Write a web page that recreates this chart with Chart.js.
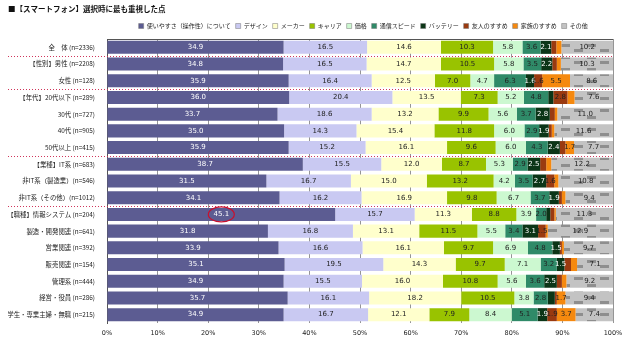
<!DOCTYPE html>
<html>
<head>
<meta charset="utf-8">
<script src="https://cdn.jsdelivr.net/npm/chart.js@4/dist/chart.umd.min.js"></script>
<style>
  body { margin: 0; background: #fff; }
  #wrap { width: 640px; height: 341px; }
</style>
</head>
<body>
<div id="wrap"><canvas id="dataChart" width="640" height="341"></canvas></div>
<script>
// row labels
var categories = [
  '全　体 (n=2336)', '【性別】男性 (n=2208)', '女性 (n=128)',
  '【年代】20代以下 (n=289)', '30代 (n=727)', '40代 (n=905)', '50代以上 (n=415)',
  '【業種】IT系 (n=683)', '非IT系（製造業）(n=546)', '非IT系（その他）(n=1012)',
  '【職種】情報システム (n=204)', '製造・開発関連 (n=641)', '営業関連 (n=392)',
  '販売関連 (n=154)', '管理系 (n=444)', '経営・役員 (n=286)', '学生・専業主婦・無職 (n=215)'
];
var seriesNames = ['使いやすさ（操作性）について', 'デザイン', 'メーカー', 'キャリア', '価格',
  '通信スピード', 'バッテリー', '友人のすすめ', '家族のすすめ', 'その他'];

var useValues     = [34.9, 34.8, 35.9, 36.0, 33.7, 35.0, 35.9, 38.7, 31.5, 34.1, 45.1, 31.8, 33.9, 35.1, 34.9, 35.7, 34.9];
var designValues  = [16.5, 16.5, 16.4, 20.4, 18.6, 14.3, 15.2, 15.5, 16.7, 16.2, 15.7, 16.8, 16.6, 19.5, 15.5, 16.1, 16.7];
var makerValues   = [14.6, 14.7, 12.5, 13.5, 13.2, 15.4, 16.1, 12.0, 15.0, 16.9, 11.3, 13.1, 16.1, 14.3, 16.0, 18.2, 12.1];
var carrierValues = [10.3, 10.5, 7.0, 7.3, 9.9, 11.8, 9.6, 8.7, 13.2, 9.8, 8.8, 11.5, 9.7, 9.7, 10.8, 10.5, 7.9];
var priceValues   = [5.8, 5.8, 4.7, 5.2, 5.6, 6.0, 6.0, 5.3, 4.2, 6.7, 3.9, 5.5, 6.9, 7.1, 5.6, 3.8, 8.4];
var speedValues   = [3.6, 3.5, 6.3, 4.8, 3.7, 2.9, 4.3, 2.9, 3.5, 3.7, 2.0, 3.4, 4.8, 3.2, 3.6, 2.8, 5.1];
var batteryValues = [2.1, 2.2, 1.6, 1.0, 2.8, 1.9, 2.4, 2.5, 2.7, 1.9, 0.8, 3.1, 1.5, 1.5, 2.5, 1.4, 1.9];
var friendValues  = [1.0, 0.9, 1.6, 2.8, 1.0, 0.6, 1.1, 1.2, 1.6, 0.6, 0.8, 1.5, 0.4, 1.3, 1.0, 0.4, 1.9];
var familyValues  = [1.0, 0.8, 5.5, 1.4, 0.5, 0.5, 1.7, 1.0, 0.8, 0.7, 0.3, 0.4, 0.4, 1.2, 0.9, 1.7, 3.7];
var otherValues   = [10.2, 10.3, 8.6, 7.6, 11.0, 11.6, 7.7, 12.2, 10.8, 9.4, 11.3, 12.9, 9.7, 7.1, 9.2, 9.4, 7.4];

var xTicks = [0, 10, 20, 30, 40, 50, 60, 70, 80, 90, 100];
// group separators drawn after these row indexes
var groupBreaks = [0, 2, 6, 9];
var circledRow = 10;

// gray "brick" pattern for その他
function makePattern() {
  var c = document.createElement('canvas');
  c.width = 26; c.height = 12;
  var g = c.getContext('2d');
  g.fillStyle = '#c3c3c3'; g.fillRect(0, 0, 26, 12);
  g.fillStyle = '#8e8e8e';
  g.fillRect(2, 1, 9, 3);
  g.fillRect(15, 8, 9, 3);
  return g.createPattern(c, 'repeat');
}

var allValues = [useValues, designValues, makerValues, carrierValues, priceValues,
  speedValues, batteryValues, friendValues, familyValues, otherValues];
var colors = ['#5c5c92', '#c9c9f2', '#ffffcc', '#99c300', '#ccf8d0',
  '#2f8a68', '#0b3517', '#9a3a10', '#f5890f', makePattern()];
var legendColors = colors.slice(0, 9).concat(['#c3c3c3']);
var labelColors = ['#fff', '#222', '#222', '#222', '#222', '#222', '#fff', '#222', '#222', '#222'];

var datasets = allValues.map(function(vals, i) {
  return {
    label: seriesNames[i],
    data: vals,
    backgroundColor: colors[i],
    borderWidth: 0,
    barPercentage: 0.78,
    categoryPercentage: 1.0
  };
});

var decorPlugin = {
  id: 'decor',
  beforeDatasetsDraw: function(chart) {
    var ctx = chart.ctx, a = chart.chartArea, y = chart.scales.y;
    ctx.save();
    // top line of plot
    ctx.strokeStyle = '#555';
    ctx.lineWidth = 1;
    ctx.beginPath();
    ctx.moveTo(a.left, a.top + 0.5); ctx.lineTo(a.right, a.top + 0.5);
    ctx.stroke();
    // dotted red group separators
    ctx.strokeStyle = '#d0345a';
    ctx.setLineDash([1, 2]);
    groupBreaks.forEach(function(i) {
      var py = Math.round((y.getPixelForValue(i) + y.getPixelForValue(i + 1)) / 2) + 0.5;
      ctx.beginPath();
      ctx.moveTo(8, py); ctx.lineTo(a.right, py);
      ctx.stroke();
    });
    ctx.restore();
  },
  afterDatasetsDraw: function(chart) {
    var ctx = chart.ctx;
    ctx.save();
    ctx.font = '7px "DejaVu Sans", sans-serif';
    ctx.textAlign = 'center';
    ctx.textBaseline = 'middle';
    chart.data.datasets.forEach(function(ds, di) {
      var meta = chart.getDatasetMeta(di);
      meta.data.forEach(function(bar, j) {
        var v = ds.data[j];
        if (v < 1.5) return;
        var cx = (bar.x + bar.base) / 2;
        ctx.fillStyle = labelColors[di];
        ctx.fillText(v.toFixed(1), cx, bar.y);
        if (di === 0 && j === circledRow) {
          ctx.strokeStyle = '#c8102e';
          ctx.lineWidth = 1.2;
          ctx.beginPath();
          ctx.ellipse(cx, bar.y, 13, 7.5, 0, 0, Math.PI * 2);
          ctx.stroke();
        }
      });
    });
    ctx.restore();
  }
};

var ctx = document.getElementById('dataChart');
var myChart = new Chart(ctx, {
  type: 'bar',
  data: { labels: categories, datasets: datasets },
  plugins: [decorPlugin],
  options: {
    indexAxis: 'y',
    responsive: false,
    animation: false,
    devicePixelRatio: 1,
    layout: { padding: { left: 8, right: 27, top: 3, bottom: 0 } },
    plugins: {
      title: {
        display: true,
        text: '■【スマートフォン】選択時に最も重視した点',
        align: 'start',
        color: '#111',
        font: { family: '"Noto Sans CJK JP"', size: 7.5, weight: 'bold' },
        padding: { top: 2, bottom: 4 }
      },
      legend: {
        position: 'top',
        align: 'end',
        labels: {
          boxWidth: 5,
          boxHeight: 5,
          padding: 5,
          color: '#222',
          font: { family: '"Noto Sans CJK JP"', size: 6 },
          generateLabels: function(chart) {
            var items = chart.data.datasets.map(function(ds, i) {
              return { text: ds.label, fillStyle: legendColors[i], strokeStyle: '#777',
                lineWidth: 0.5, datasetIndex: i, fontColor: '#222' };
            });
            // blank spacer so the legend stops short of the plot's right edge
            items.push({ text: '　 ', fillStyle: 'rgba(0,0,0,0)', strokeStyle: 'rgba(0,0,0,0)',
              lineWidth: 0, fontColor: 'rgba(0,0,0,0)' });
            return items;
          }
        }
      },
      tooltip: { enabled: false }
    },
    scales: {
      x: {
        stacked: true,
        min: 0,
        max: 100,
        afterBuildTicks: function(s) {
          s.ticks = xTicks.map(function(v) { return { value: v }; });
        },
        afterFit: function(s) { s.height = 18; },
        ticks: {
          callback: function(v) { return v + '%'; },
          color: '#222',
          font: { family: '"DejaVu Sans"', size: 6.5 },
          padding: 6
        },
        grid: { color: '#7a7a7a', lineWidth: 0.8, drawTicks: false },
        border: { display: false }
      },
      y: {
        stacked: true,
        afterFit: function(s) { s.width = 99; },
        ticks: {
          color: '#222',
          font: { family: '"Noto Sans CJK JP"', size: 6.4 },
          padding: 4
        },
        grid: { display: false },
        border: { display: true, color: '#555' }
      }
    }
  }
});
</script>
</body>
</html>
